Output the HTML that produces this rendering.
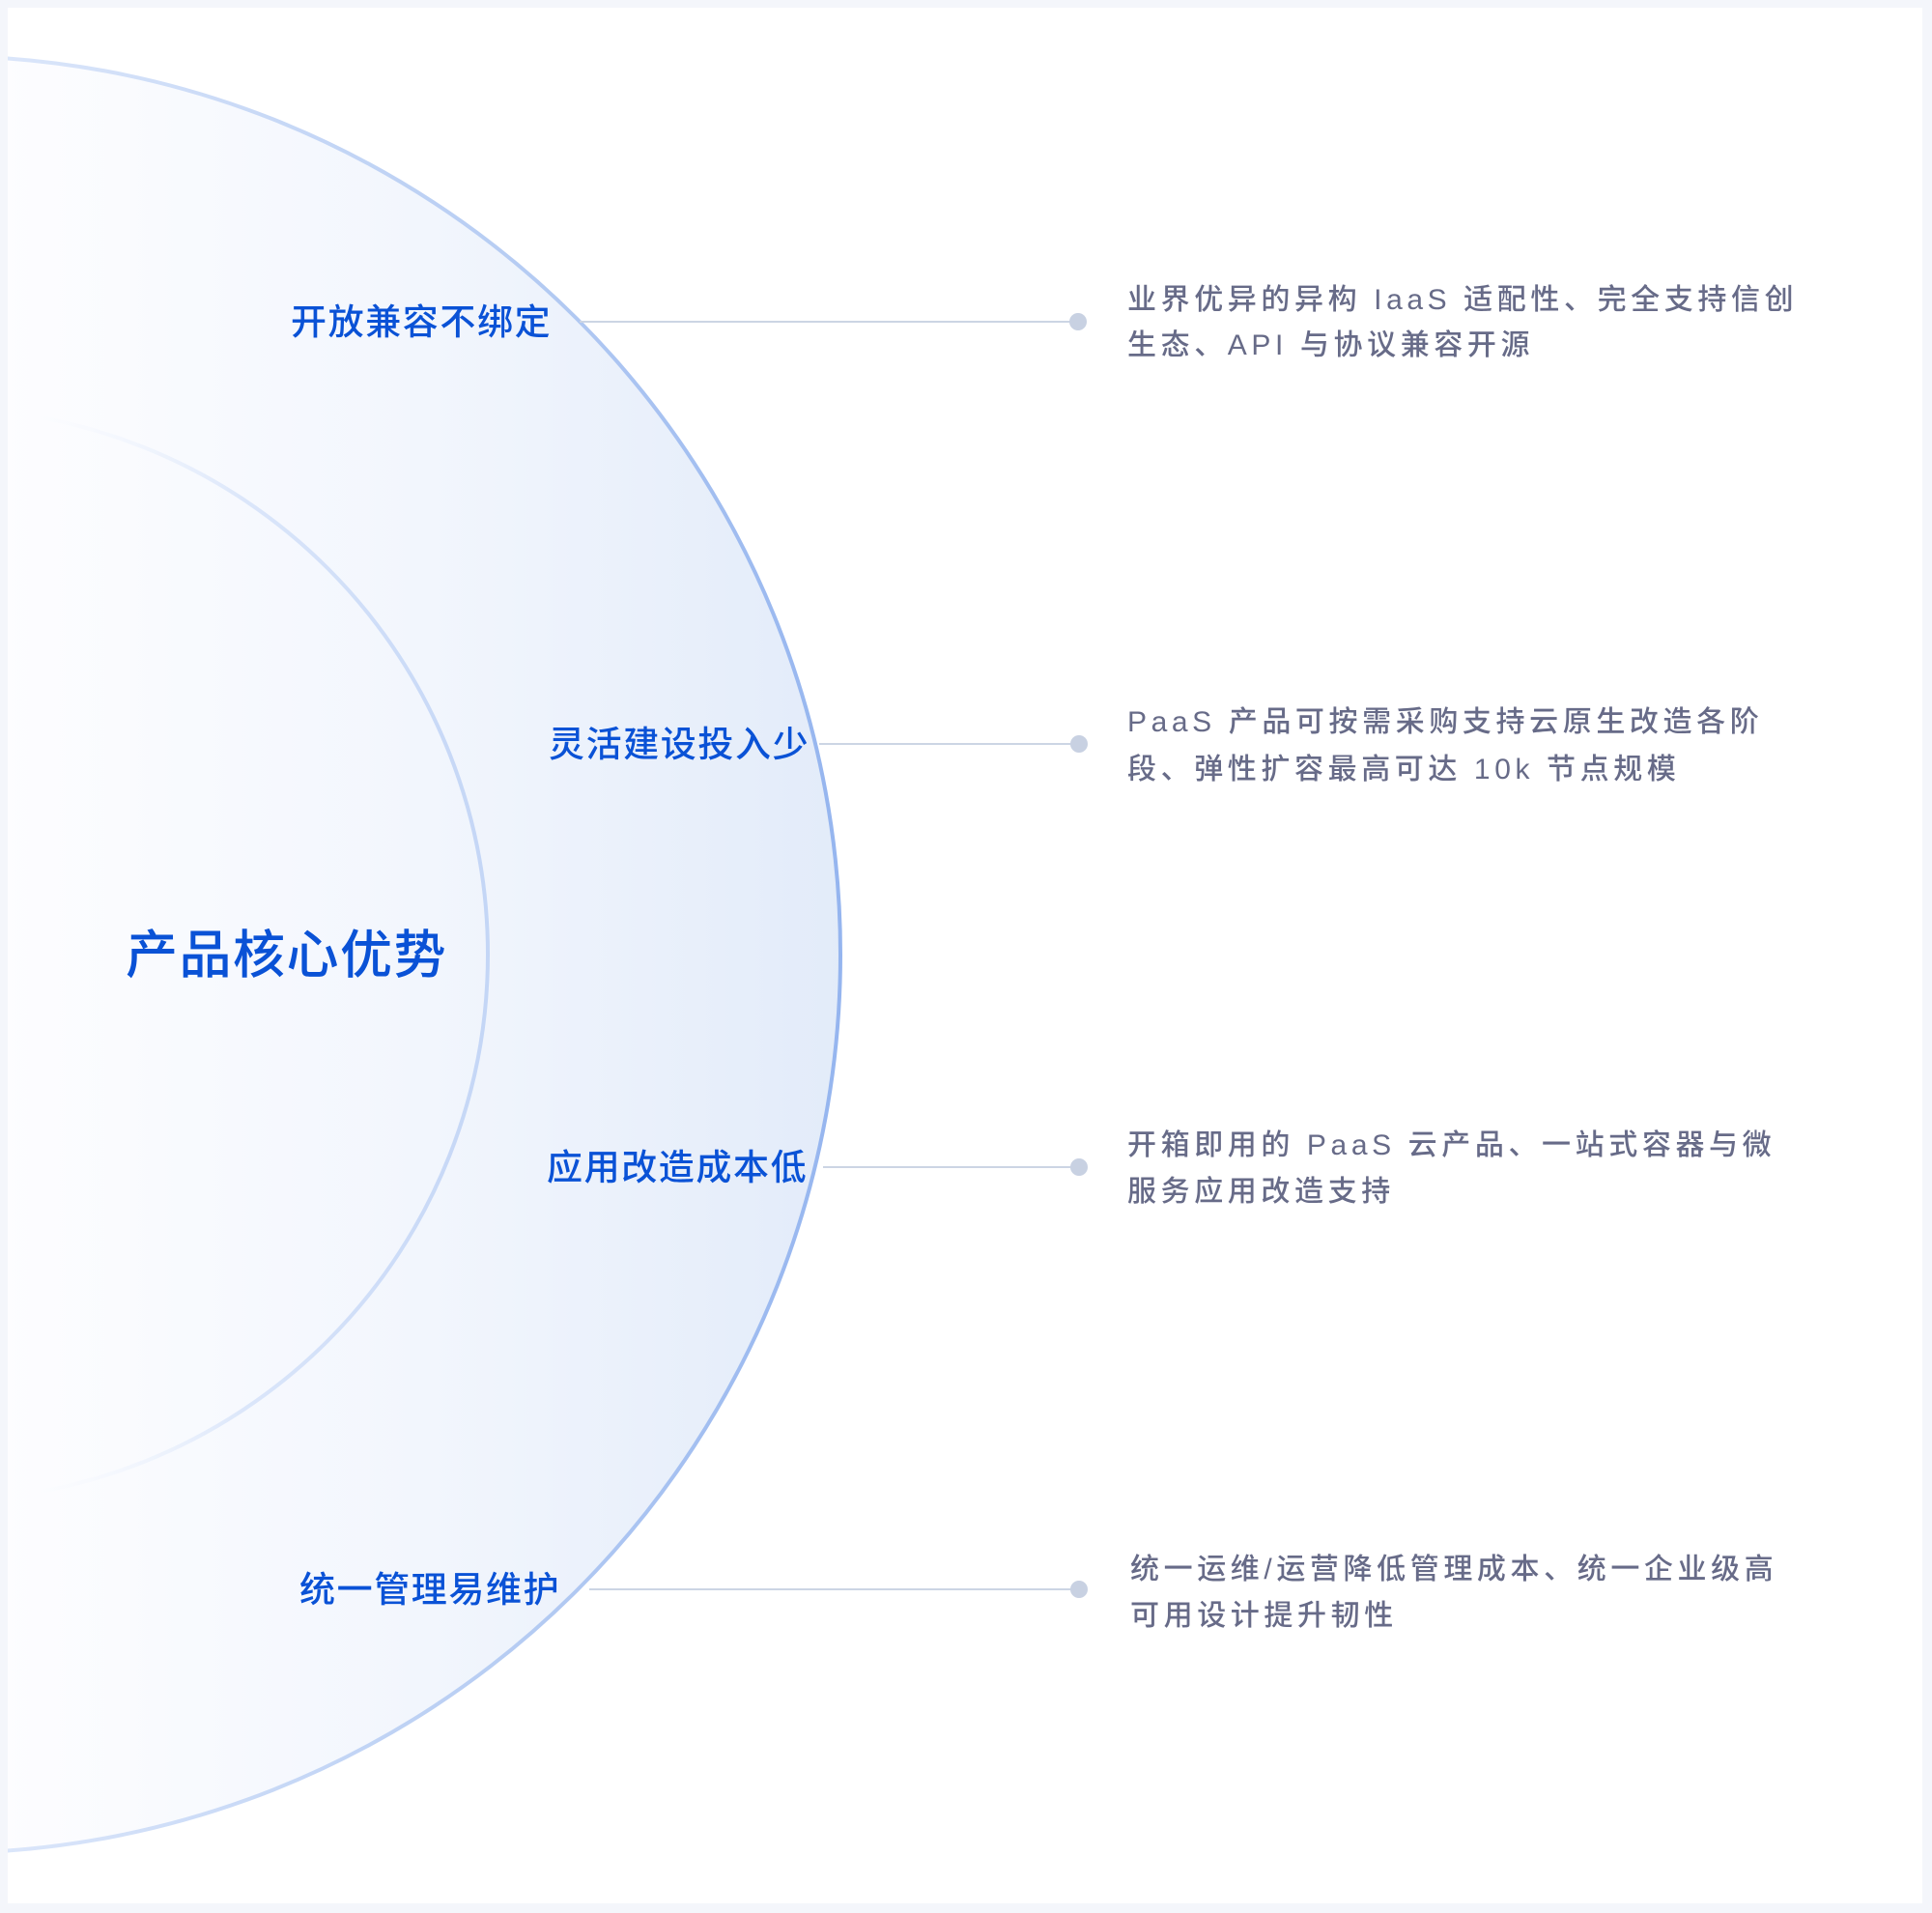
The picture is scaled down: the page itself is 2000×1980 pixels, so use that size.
<!DOCTYPE html>
<html><head><meta charset="utf-8"><style>
html,body{margin:0;padding:0;background:#f4f6fb;}
svg{display:block}
text{font-family:"Liberation Sans","Noto Sans CJK SC",sans-serif;}
</style></head><body>
<svg width="2000" height="1980" viewBox="0 0 2000 1980" xmlns="http://www.w3.org/2000/svg">
<defs>
<linearGradient id="fill" x1="0" y1="0" x2="1" y2="0" gradientUnits="userSpaceOnUse" gradientTransform="matrix(880 0 0 1 0 0)">
<stop offset="0" stop-color="#fdfdff"/><stop offset="0.5" stop-color="#f2f6fd"/><stop offset="1" stop-color="#e2ebf9"/>
</linearGradient>
<linearGradient id="st" x1="0" y1="0" x2="871" y2="0" gradientUnits="userSpaceOnUse">
<stop offset="0" stop-color="#dbe6fa"/><stop offset="0.6" stop-color="#b7cdf3"/><stop offset="1" stop-color="#95b5ef"/>
</linearGradient>
<linearGradient id="st2" x1="0" y1="0" x2="505" y2="0" gradientUnits="userSpaceOnUse">
<stop offset="0" stop-color="#ffffff" stop-opacity="0"/><stop offset="0.5" stop-color="#dbe6fa"/><stop offset="1" stop-color="#c4d6f6"/>
</linearGradient>
</defs>
<rect x="8" y="8" width="1982" height="1962" fill="#ffffff"/>
<clipPath id="c"><rect x="8" y="8" width="1982" height="1962"/></clipPath>
<g clip-path="url(#c)">
<circle cx="-60" cy="988" r="930" fill="url(#fill)" stroke="url(#st)" stroke-width="4"/>
<circle cx="-60" cy="988" r="565" fill="none" stroke="url(#st2)" stroke-width="4"/>
</g>
<text x="130" y="1007" font-size="54" fill="#0a52d6" font-weight="500" letter-spacing="1.5">产品核心优势</text>
<g font-size="37" fill="#0a52d6" letter-spacing="1.6" font-weight="500">
<text x="301" y="346">开放兼容不绑定</text>
<text x="568" y="783">灵活建设投入少</text>
<text x="566" y="1221">应用改造成本低</text>
<text x="310" y="1658">统一管理易维护</text>
</g>
<g stroke="#ccd5e4" stroke-width="2">
<line x1="600" y1="333" x2="1110" y2="333"/>
<line x1="848" y1="770" x2="1110" y2="770"/>
<line x1="852" y1="1208" x2="1110" y2="1208"/>
<line x1="610" y1="1645" x2="1110" y2="1645"/>
</g>
<g fill="#c8d1e2">
<circle cx="1116" cy="333" r="9"/>
<circle cx="1117" cy="770" r="9"/>
<circle cx="1117" cy="1208" r="9"/>
<circle cx="1117" cy="1645" r="9"/>
</g>
<g font-size="30" fill="#676b88" letter-spacing="4.6" font-weight="500">
<text x="1167" y="320">业界优异的异构 IaaS 适配性、完全支持信创</text>
<text x="1167" y="367">生态、API 与协议兼容开源</text>
<text x="1167" y="757">PaaS 产品可按需采购支持云原生改造各阶</text>
<text x="1167" y="806">段、弹性扩容最高可达 10k 节点规模</text>
<text x="1167" y="1195">开箱即用的 PaaS 云产品、一站式容器与微</text>
<text x="1167" y="1243">服务应用改造支持</text>
<text x="1170" y="1634">统一运维/运营降低管理成本、统一企业级高</text>
<text x="1170" y="1682">可用设计提升韧性</text>
</g>
</svg>
</body></html>
